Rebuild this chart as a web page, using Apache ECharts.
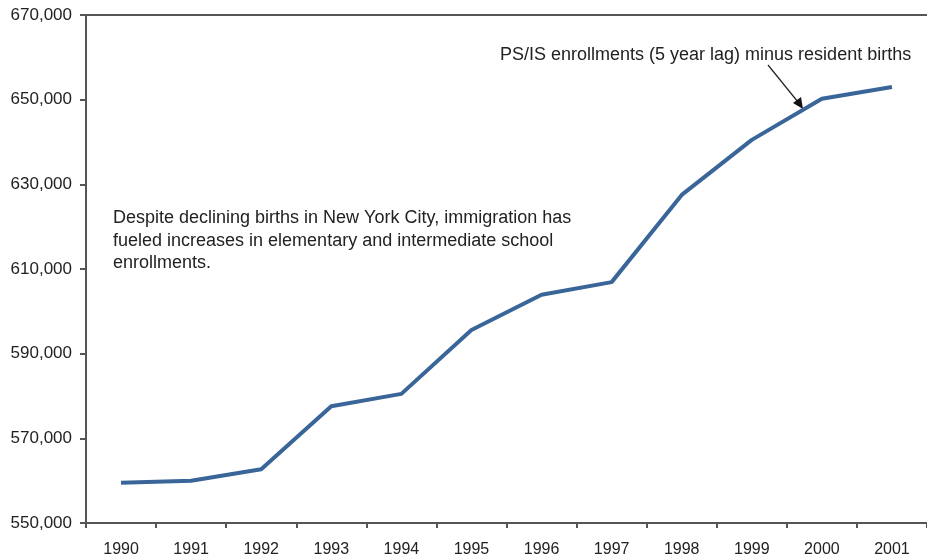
<!DOCTYPE html>
<html>
<head>
<meta charset="utf-8">
<script src="https://cdn.jsdelivr.net/npm/echarts@6/dist/echarts.min.js"></script>
<style>
  html, body { margin: 0; padding: 0; background: #fff; }
  #chart { width: 927px; height: 560px; }
</style>
</head>
<body>
<div id="chart"></div>
<script>
const years = ["1990", "1991", "1992", "1993", "1994", "1995", "1996", "1997", "1998", "1999", "2000", "2001"]
const enrollments = [559500, 560000, 562700, 577600, 580500, 595600, 603900, 606900, 627500, 640500, 650200, 653000]
const yMin = 550000
const yMax = 670000
const yStep = 20000

const chart = echarts.init(document.getElementById("chart"))
const font = "Liberation Sans, Arial, sans-serif"
const axisColor = "#555"

chart.setOption({
  animation: false,
  grid: { left: 86, right: 0, top: 15, bottom: 37 },
  xAxis: {
    type: "category",
    data: years,
    boundaryGap: true,
    axisLine: { lineStyle: { color: axisColor, width: 2 } },
    axisTick: { show: true, length: 5, lineStyle: { color: axisColor, width: 2 } },
    axisLabel: { color: "#222", fontSize: 16, fontFamily: font, margin: 19 }
  },
  yAxis: {
    type: "value",
    min: yMin,
    max: yMax,
    interval: yStep,
    axisLine: { show: true, lineStyle: { color: axisColor, width: 2 } },
    axisTick: { show: true, length: 6, lineStyle: { color: axisColor, width: 2 } },
    splitLine: { show: false },
    axisLabel: {
      color: "#222", fontSize: 17, fontFamily: font, margin: 14,
      formatter: (v) => v.toLocaleString("en-US")
    }
  },
  series: [
    {
      type: "line",
      data: enrollments,
      symbol: "none",
      lineStyle: { color: "#3a6599", width: 4 },
      markLine: {
        silent: true,
        symbol: "none",
        label: { show: false },
        lineStyle: { color: axisColor, width: 2, type: "solid" },
        data: [{ yAxis: yMax }]
      }
    }
  ],
  graphic: [
    {
      type: "text",
      left: 113,
      top: 207,
      style: {
        text: "Despite declining births in New York City, immigration has\nfueled increases in elementary and intermediate school\nenrollments.",
        fill: "#222",
        font: "18px " + font,
        lineHeight: 22.5
      }
    },
    {
      type: "text",
      left: 500,
      top: 46,
      style: {
        text: "PS/IS enrollments (5 year lag) minus resident births",
        fill: "#222",
        font: "18px " + font
      }
    },
    {
      type: "line",
      shape: { x1: 768, y1: 65, x2: 798, y2: 102 },
      style: { stroke: "#222", lineWidth: 1.2 }
    },
    {
      type: "polygon",
      shape: { points: [[803, 109], [793, 103], [801, 97]] },
      style: { fill: "#111" }
    }
  ]
})
</script>
</body>
</html>
